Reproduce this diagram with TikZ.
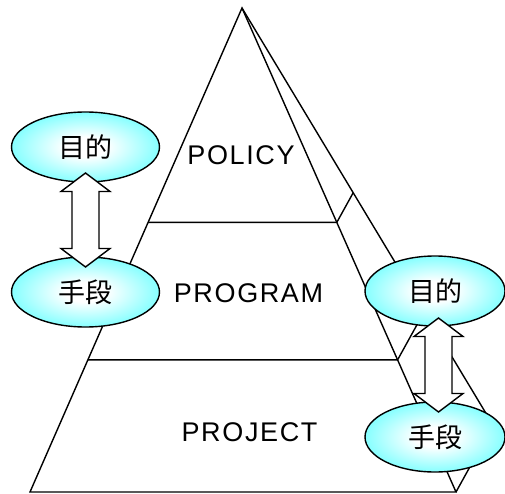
\documentclass[tikz,border=0pt]{standalone}
\usepackage{fontspec}
\setmainfont{Liberation Sans}
\newfontfamily\cjk{Noto Sans CJK JP}
\newfontfamily\latsp[LetterSpace=6]{Liberation Sans}
\usetikzlibrary{calc,shapes.geometric}
\pgfdeclareradialshading{cyanball}{\pgfpoint{0bp}{0bp}}{color(0bp)=(white); color(7bp)=(white); color(45bp)=(cyan); color(50bp)=(cyan)}
\tikzset{
  edge/.style={line width=1.4pt, line join=miter},
  goal/.style={ellipse, draw, line width=1.4pt, shading=cyanball,
    minimum width=148pt, minimum height=70pt, inner sep=0pt, outer sep=0pt,
    font=\cjk\fontsize{27}{30}\selectfont},
  level/.style={font=\latsp\fontsize{27}{30}\selectfont, inner sep=0pt},
  arrowbox/.style={draw, fill=white, line width=1.4pt, line join=miter}
}
\newcommand\vdarrow[2]{%
  \draw[arrowbox] (#1) -- ($(#1)+(24.5,18.5)$) -- ($(#1)+(13.5,18.5)$)
    -- ($(#2)+(13.5,-18.5)$) -- ($(#2)+(24.5,-18.5)$) -- (#2)
    -- ($(#2)+(-24.5,-18.5)$) -- ($(#2)+(-13.5,-18.5)$)
    -- ($(#1)+(-13.5,18.5)$) -- ($(#1)+(-24.5,18.5)$) -- cycle;}
\begin{document}
\begin{tikzpicture}[x=1pt, y=-1pt]
\useasboundingbox (0,0) rectangle (505,494);
\fill[white] (0,0) rectangle (505,494);
% pyramid corners
\coordinate (A) at (242,8);
\coordinate (BL) at (30,492);
\coordinate (BR) at (456,492);
\coordinate (BB) at (493,425);
% outline
\draw[edge] (BL) -- (A) -- (BR) -- cycle;
\draw[edge] (A) -- (BB) -- (BR);
% level lines
\foreach \f in {0.443,0.727}{
  \draw[edge] ($(A)!\f!(BL)$) -- ($(A)!\f!(BR)$) -- ($(A)!\f!(BB)$);
}
% level labels
\node[level] (policy) at (241,155) {POLICY};
\node[level] (program) at (248.5,293.5) {PROGRAM};
\node[level] (project) at (249.5,432.5) {PROJECT};
% ellipses
\node[goal] (lgoal) at (85.5,147) {目的};
\node[goal] (lmeans) at (85.5,292) {手段};
\node[goal, minimum width=140pt] (rgoal) at (435,291) {目的};
\node[goal, minimum width=140pt] (rmeans) at (435,437) {手段};
% arrows
\coordinate (lt) at ($(lgoal.south)+(0,-9)$);
\coordinate (lb) at ($(lmeans.north)+(0,10)$);
\coordinate (rt) at ($(rgoal.south)+(3.5,-8)$);
\coordinate (rb) at ($(rmeans.north)+(3.5,10)$);
\vdarrow{lt}{lb}
\vdarrow{rt}{rb}
\end{tikzpicture}
\end{document}
